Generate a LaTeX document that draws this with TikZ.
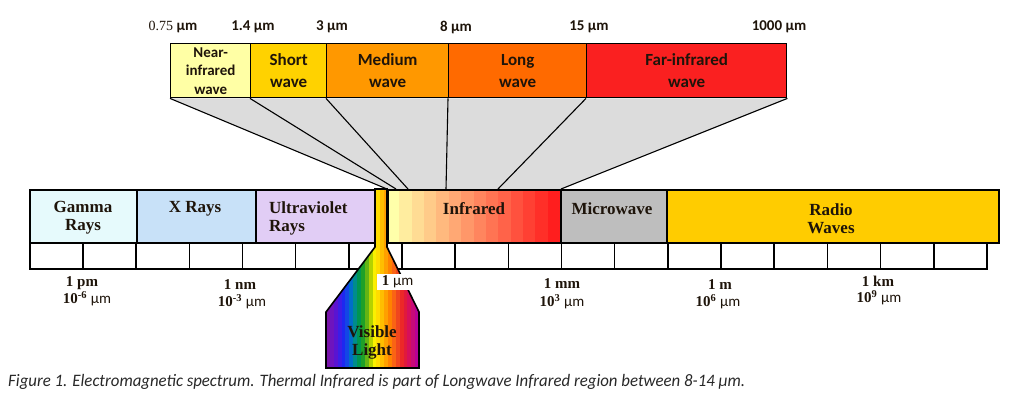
\documentclass[tikz,border=0pt]{standalone}
\usepackage{fontspec}
\setmainfont{Liberation Serif}
\newfontfamily\calib{Carlito}
\newfontfamily\capfont[FakeStretch=0.96]{Carlito}
\usetikzlibrary{backgrounds}
\definecolor{nearc}{RGB}{255,255,165}
\definecolor{shortc}{RGB}{255,210,0}
\definecolor{medc}{RGB}{255,152,0}
\definecolor{longc}{RGB}{255,106,0}
\definecolor{farc}{RGB}{250,32,32}
\definecolor{gammac}{RGB}{230,250,252}
\definecolor{xrayc}{RGB}{200,225,248}
\definecolor{uvc}{RGB}{225,205,245}
\definecolor{microc}{RGB}{190,190,190}
\definecolor{radioc}{RGB}{255,204,0}
\definecolor{fanc}{RGB}{220,220,220}
\definecolor{txt}{RGB}{30,20,10}
\definecolor{capc}{RGB}{40,40,40}
\begin{document}
\begin{tikzpicture}[x=1pt,y=-1pt,
  topbox/.style={draw=black,line width=1.4pt,minimum height=54pt,inner sep=0pt,anchor=north west,align=center,font=\calib\bfseries\fontsize{17}{22}\selectfont,text=txt},
  barbox/.style={draw=black,line width=1.6pt,minimum height=53pt,inner sep=0pt,anchor=north west},
  barlab/.style={font=\bfseries\fontsize{17}{18}\selectfont,text=txt,align=center,inner sep=0pt},
  cellbox/.style={draw=black,line width=1.6pt,fill=white,minimum width=53.17pt,minimum height=26pt,inner sep=0pt,anchor=north west},
  toplab/.style={font=\calib\bfseries\fontsize{15}{15}\selectfont,text=txt,inner sep=0pt},
  unitlab/.style={font=\bfseries\fontsize{15}{15}\selectfont,text=txt,inner sep=0pt},
  fanline/.style={draw=black,line width=1.1pt}
]
\useasboundingbox (0,0) rectangle (1024,397);

% top labels
\node[toplab] (w0) at (173,27) {{\mdseries\fontsize{14}{14}\selectfont\rmfamily 0.75} µm};
\node[toplab] (w1) at (253,27) {1.4 µm};
\node[toplab] (w2) at (332,27) {3 µm};
\node[toplab] (w3) at (456,27) {8 µm};
\node[toplab] (w4) at (589,27) {15 µm};
\node[toplab] (w5) at (779,27) {1000 µm};

% top boxes
\node[topbox,fill=nearc,minimum width=80pt,font=\calib\bfseries\fontsize{15}{18.5}\selectfont] (near) at (170,43) {Near-\\infrared\\wave};
\node[topbox,fill=shortc,minimum width=76pt] (short) at (250,43) {Short\\wave};
\node[topbox,fill=medc,minimum width=122pt] (medium) at (326,43) {Medium\\wave};
\node[topbox,fill=longc,minimum width=138pt] (long) at (448,43) {Long\\wave};
\node[topbox,fill=farc,minimum width=200pt] (far) at (586,43) {Far-infrared\\wave};

% fan
\coordinate (b0) at (387,189);
\coordinate (b1) at (396,189);
\coordinate (b2) at (408,189);
\coordinate (b3) at (446,189);
\coordinate (b4) at (498,189);
\coordinate (b5) at (561,189);
\begin{scope}[on background layer]
\fill[fanc] (near.south west) -- (far.south east) -- (b5) -- (b0) -- cycle;
\draw[fanline] (near.south west) -- (b0);
\draw[fanline] (short.south west) -- (b1);
\draw[fanline] (medium.south west) -- (b2);
\draw[fanline] (long.south west) -- (b3);
\draw[fanline] (far.south west) -- (b4);
\draw[fanline] (far.south east) -- (b5);
\end{scope}

% tick cells
\foreach \i in {0,...,17}
  \node[cellbox] (c\i) at ({29+\i*53.17},242) {};

% main bar
\node[barbox,fill=gammac,minimum width=107pt] (gamma) at (29,189) {};
\node[barbox,fill=xrayc,minimum width=119pt] (xray) at (136,189) {};
\node[barbox,fill=uvc,minimum width=120pt] (uv) at (255,189) {};
\foreach \i in {0,...,13}{
  \pgfmathtruncatemacro{\gg}{255-225*\i/13}
  \pgfmathtruncatemacro{\bb}{170-140*\i/13}
  \definecolor{irc}{RGB}{255,\gg,\bb}
  \fill[irc] ({387+\i*173/14},189) rectangle ({387+(\i+1)*173/14+0.4},242);
}
\node[barbox,minimum width=173pt] (ir) at (387,189) {};
\node[barbox,fill=microc,minimum width=106pt] (micro) at (560,189) {};
\node[barbox,fill=radioc,minimum width=332pt] (radio) at (666,189) {};

\node[barlab] (gammal) at (83,218) {Gamma\\Rays};
\node[barlab] (xrayl) at (195,209) {X Rays};
\node[barlab,anchor=west,align=left] (uvl) at (269,218) {Ultraviolet\\Rays};
\node[barlab] (irl) at (474,209) {Infrared};
\node[barlab] (microl) at (612,209) {Microwave};
\node[barlab] (radiol) at (831,218.5) {Radio\\Waves};

% visible light funnel
\begin{scope}
\clip (375,189) -- (375,247) -- (326,312) -- (326,368) -- (419,368) -- (419,312) -- (387,247) -- (387,189) -- cycle;
\foreach \r/\g/\b [count=\i from 0] in {120/20/170,110/20/190,90/20/210,60/30/230,30/40/240,20/70/230,0/110/200,0/140/140,0/150/80,30/160/40,100/180/20,180/210/0,250/240/0,255/220/0,255/190/0,255/160/0,255/130/0,250/100/20,240/70/30,235/40/40,225/25/60,215/15/90,200/10/120,185/0/150}{
  \definecolor{visc}{RGB}{\r,\g,\b}
  \fill[visc] ({326+\i*93/24},185) rectangle ({326+(\i+1)*93/24+0.4},372);
}
\end{scope}
\draw[line width=1.6pt,line join=miter] (375,189) -- (375,247) -- (326,312) -- (326,368) -- (419,368) -- (419,312) -- (387,247) -- (387,189) -- cycle;
\node[barlab] (visl) at (372,342) {Visible\\Light};
\node[fill=white,inner sep=0pt,minimum width=41pt,minimum height=16pt,anchor=north west,font=\bfseries\fontsize{15}{15}\selectfont,text=txt] (onemu) at (377,274) {1 {\calib\mdseries µm}};

% lower labels
\node[unitlab] (l1a) at (82,283) {1 pm};
\node[unitlab] (l1b) at (87,299) {10\textsuperscript{-6} {\calib\mdseries µm}};
\node[unitlab] (l2a) at (240,285) {1 nm};
\node[unitlab] (l2b) at (242,302) {10\textsuperscript{-3} {\calib\mdseries µm}};
\node[unitlab] (l3a) at (562,284) {1 mm};
\node[unitlab] (l3b) at (562,302) {10\textsuperscript{3} {\calib\mdseries µm}};
\node[unitlab] (l4a) at (720,285) {1 m};
\node[unitlab] (l4b) at (718,302) {10\textsuperscript{6} {\calib\mdseries µm}};
\node[unitlab] (l5a) at (878,281) {1 km};
\node[unitlab] (l5b) at (879,298) {10\textsuperscript{9} {\calib\mdseries µm}};

% caption
\node[anchor=west,inner sep=0pt,font=\capfont\itshape\fontsize{17.5}{17.5}\selectfont,text=capc] (cap) at (8,382) {Figure 1. Electromagnetic spectrum. Thermal Infrared is part of Longwave Infrared region between 8-14 µm.};
\end{tikzpicture}
\end{document}
